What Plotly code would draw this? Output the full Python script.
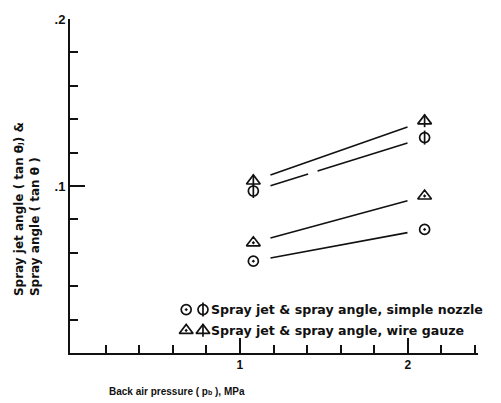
import plotly.graph_objects as go

# ---- data ----
pressure = [1.08, 2.1]                 # back air pressure, MPa
simple_plain = [0.055, 0.074]          # circle (dot) - simple nozzle
simple_barred = [0.097, 0.129]         # circle with bar - simple nozzle
gauze_plain = [0.066, 0.094]           # triangle (dot) - wire gauze
gauze_barred = [0.103, 0.139]          # triangle with bar - wire gauze

x_major = [1, 2]
x_major_text = ["<b>1</b>", "<b>2</b>"]
x_minor = [0.2, 0.4, 0.6, 0.8, 1.2, 1.4, 1.6, 1.8, 2.2, 2.4]
y_major = [0.1, 0.2]
y_major_text = ["<b>.1</b>", "<b>.2</b>"]
y_minor = [0.02, 0.04, 0.06, 0.08, 0.12, 0.14, 0.16, 0.18]

legend_texts = ["Spray jet & spray angle, simple nozzle",
                "Spray jet & spray angle, wire gauze"]

FONT = "Liberation Sans"
WIDE = "DejaVu Sans"
BLACK = "#111111"

fig = go.Figure()


def segment(xs, ys, f0, f1):
    x0, x1 = xs
    y0, y1 = ys
    return ([x0 + f0 * (x1 - x0), x0 + f1 * (x1 - x0)],
            [y0 + f0 * (y1 - y0), y0 + f1 * (y1 - y0)])


line_style = dict(color=BLACK, width=1.6)

# fitted lines (drawn short of the markers, as in the original)
for ys, parts in [(gauze_barred, [(0.1, 0.9)]),
                  (simple_barred, [(0.1, 0.32), (0.375, 0.9)]),
                  (gauze_plain, [(0.1, 0.9)]),
                  (simple_plain, [(0.1, 0.9)])]:
    lx, ly = [], []
    for f0, f1 in parts:
        sx, sy = segment(pressure, ys, f0, f1)
        lx += sx + [None]
        ly += sy + [None]
    fig.add_trace(go.Scatter(x=lx, y=ly, mode="lines", line=line_style,
                             hoverinfo="skip", showlegend=False))

mk_line = dict(color=BLACK, width=1.7)


def markers(xs, ys, symbol, size):
    fig.add_trace(go.Scatter(
        x=xs, y=ys, mode="markers",
        marker=dict(symbol=symbol, size=size, color=BLACK, line=mk_line),
        showlegend=False))


markers(pressure, simple_plain, "circle-open-dot", 10)
markers(pressure, gauze_plain, "triangle-up-open-dot", 12)
markers(pressure, simple_barred, "circle-open", 10)
markers(pressure, simple_barred, "line-ns-open", 10)
markers(pressure, gauze_barred, "triangle-up-open", 12)
markers(pressure, gauze_barred, "line-ns-open", 9)

# ---- legend (drawn as markers + text) ----
leg_x1, leg_x2, leg_tx = 0.68, 0.78, 0.815
leg_y = [0.026, 0.0135]
markers([leg_x1], [leg_y[0]], "circle-open-dot", 10)
markers([leg_x2], [leg_y[0]], "circle-open", 10)
markers([leg_x2], [leg_y[0]], "line-ns-open", 10)
markers([leg_x1], [leg_y[1]], "triangle-up-open-dot", 12)
markers([leg_x2], [leg_y[1]], "triangle-up-open", 12)
markers([leg_x2], [leg_y[1]], "line-ns-open", 9)

annotations = []
for t, yv in zip(legend_texts, leg_y):
    annotations.append(dict(x=leg_tx, y=yv, xref="x", yref="y", text="<b>" + t + "</b>",
                            showarrow=False, xanchor="left", yanchor="middle",
                            font=dict(family=WIDE, size=12.6, color=BLACK)))

# axis titles
annotations.append(dict(
    x=-0.105, y=0.165, xref="paper", yref="paper",
    text="<b>Spray jet angle ( tan θⱼ) &<br>Spray angle ( tan θ )</b>",
    textangle=-90, showarrow=False, xanchor="center", yanchor="bottom", align="left",
    font=dict(family=WIDE, size=12, color=BLACK)))
annotations.append(dict(
    x=0.262, y=-0.115, xref="paper", yref="paper",
    text="<b>Back air pressure ( p<span style='font-size:7px'>b</span> ), MPa</b>",
    showarrow=False, xanchor="center", yanchor="middle",
    font=dict(family=FONT, size=10, color=BLACK)))

fig.update_layout(
    width=501, height=403,
    margin=dict(l=70, r=23, t=13, b=50),
    paper_bgcolor="white", plot_bgcolor="white",
    showlegend=False,
    annotations=annotations,
    font=dict(family=FONT, color=BLACK),
    xaxis=dict(range=[-0.012, 2.418], showgrid=False, zeroline=False,
               showline=True, linecolor=BLACK, linewidth=2,
               ticks="inside", ticklen=15, tickwidth=1.5, tickcolor=BLACK,
               tickmode="array", tickvals=x_major, ticktext=x_major_text,
               tickfont=dict(family=FONT, size=12, color=BLACK),
               minor=dict(tickmode="array", tickvals=x_minor, ticks="inside",
                          ticklen=8, tickwidth=1.5, tickcolor=BLACK, showgrid=False)),
    yaxis=dict(range=[0, 0.2], showgrid=False, zeroline=False,
               showline=True, linecolor=BLACK, linewidth=2,
               ticks="inside", ticklen=15, tickwidth=1.5, tickcolor=BLACK,
               tickmode="array", tickvals=y_major, ticktext=y_major_text,
               tickfont=dict(family=FONT, size=13, color=BLACK),
               minor=dict(tickmode="array", tickvals=y_minor, ticks="inside",
                          ticklen=8, tickwidth=1.5, tickcolor=BLACK, showgrid=False)),
)

fig.write_html("out.html")
